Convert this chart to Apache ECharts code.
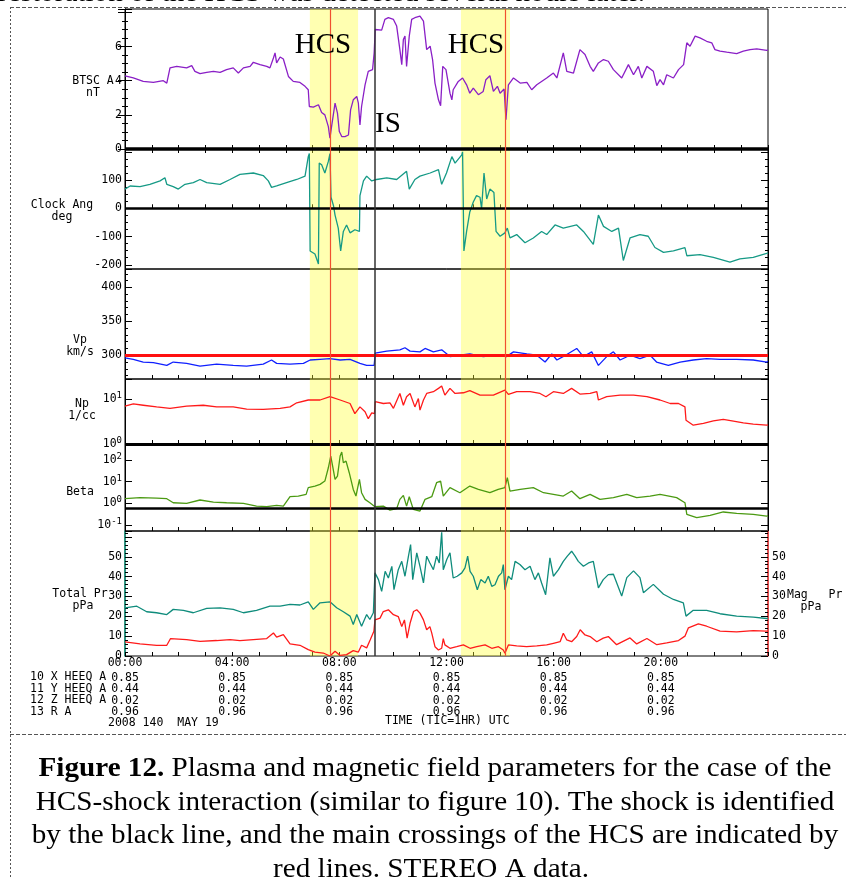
<!DOCTYPE html>
<html>
<head>
<meta charset="utf-8">
<script src="https://cdn.jsdelivr.net/npm/echarts@6/dist/echarts.min.js"></script>
<style>
  html, body { margin: 0; padding: 0; background: #fff; }
  #main { width: 846px; height: 877px; }
</style>
</head>
<body>
<div id="main"></div>
<script>
// STEREO A, 2008 day 140 (May 19); time in hours UT
const bField = [[0,4.29],[0.31,4.16],[0.68,3.96],[1.06,3.90],[1.43,4.00],[1.56,3.86],[1.68,4.75],[1.93,4.84],[2.30,4.75],[2.49,4.88],[2.61,4.55],[2.80,4.41],[3.05,4.49],[3.30,4.55],[3.55,4.49],[3.79,4.65],[4.04,4.75],[4.23,4.45],[4.42,4.75],[4.67,4.84],[4.79,5.08],[5.04,4.94],[5.29,4.84],[5.41,4.75],[5.54,5.33],[5.60,5.63],[5.66,5.04],[5.79,5.39],[5.91,5.27],[6.10,4.25],[6.28,3.96],[6.53,3.90],[6.72,3.67],[6.84,3.47],[6.88,2.49],[7.03,2.45],[7.22,2.59],[7.34,2.14],[7.46,2.00],[7.59,1.31],[7.65,0.63],[7.71,1.31],[7.84,2.69],[7.93,2.10],[8.00,1.02],[8.09,0.73],[8.21,0.73],[8.34,0.82],[8.42,2.29],[8.52,2.88],[8.65,3.08],[8.71,2.69],[8.77,1.41],[8.83,2.49],[8.96,3.76],[9.08,4.55],[9.24,4.65],[9.30,5.63],[9.34,7.00],[9.39,7.04],[9.58,6.96],[9.70,7.59],[9.83,7.69],[10.02,7.59],[10.14,7.20],[10.26,5.82],[10.33,4.94],[10.39,6.41],[10.45,6.61],[10.51,4.84],[10.61,6.61],[10.70,7.59],[10.82,7.69],[11.01,7.78],[11.14,7.49],[11.26,5.82],[11.39,6.02],[11.48,5.24],[11.57,3.86],[11.70,2.88],[11.78,2.53],[11.86,4.84],[11.98,4.65],[12.13,3.27],[12.20,2.88],[12.25,3.47],[12.44,3.96],[12.60,4.16],[12.75,3.76],[12.87,3.27],[13.00,3.57],[13.19,3.18],[13.37,3.37],[13.47,4.06],[13.62,4.29],[13.75,3.37],[13.90,3.67],[14.00,3.27],[14.15,3.51],[14.22,1.71],[14.31,3.76],[14.50,4.16],[14.75,3.86],[15.00,3.90],[15.18,3.47],[15.37,3.76],[15.74,4.16],[15.99,4.45],[16.12,4.16],[16.36,5.63],[16.49,4.55],[16.74,4.45],[16.98,5.82],[17.17,5.53],[17.36,4.84],[17.48,4.55],[17.67,5.04],[17.86,5.24],[18.04,5.14],[18.23,4.65],[18.54,4.16],[18.79,4.94],[18.98,4.35],[19.16,4.84],[19.29,4.16],[19.48,4.84],[19.72,4.55],[19.85,3.71],[19.97,4.06],[20.10,3.76],[20.22,4.35],[20.47,4.16],[20.66,4.65],[20.85,4.94],[20.97,6.22],[21.09,6.02],[21.28,6.61],[21.46,6.51],[21.71,6.31],[21.90,6.22],[22.02,5.82],[22.21,5.73],[22.46,5.67],[22.83,5.59],[23.08,5.73],[23.33,5.82],[23.58,5.86],[23.95,5.78],[24,5.80]];

const clockAngle = [[0,68],[0.19,79],[0.56,77],[0.93,85],[1.31,97],[1.49,108],[1.56,85],[1.80,77],[1.99,68],[2.24,85],[2.55,91],[2.80,102],[3.05,91],[3.55,85],[3.92,102],[4.29,120],[4.79,125],[5.16,116],[5.35,97],[5.47,74],[5.66,79],[6.03,91],[6.41,102],[6.72,114],[6.84,183],[6.88,194],[6.91,-151],[7.09,-162],[7.22,-197],[7.25,160],[7.34,154],[7.46,125],[7.59,166],[7.65,194],[7.69,39],[7.78,10],[7.84,-24],[7.96,-70],[8.05,-151],[8.15,-82],[8.27,-59],[8.40,-87],[8.58,-76],[8.75,-82],[8.77,45],[8.90,97],[9.02,114],[9.21,97],[9.39,102],[9.77,108],[10.14,102],[10.51,131],[10.61,68],[10.82,102],[11.01,114],[11.39,125],[11.70,137],[11.82,85],[12.00,125],[12.20,183],[12.32,160],[12.57,189],[12.60,200],[12.65,-151],[12.75,-82],[12.87,-13],[13.00,22],[13.12,45],[13.25,39],[13.31,-1],[13.40,125],[13.50,33],[13.62,68],[13.77,56],[13.85,-82],[14.00,-99],[14.18,-87],[14.27,-70],[14.37,-105],[14.62,-93],[14.93,-122],[15.24,-105],[15.55,-82],[15.74,-93],[16.05,-59],[16.36,-70],[16.86,-59],[17.11,-82],[17.48,-128],[17.67,-24],[17.86,-64],[18.17,-82],[18.42,-70],[18.60,-185],[18.85,-105],[19.22,-93],[19.53,-99],[19.78,-139],[20.10,-156],[20.47,-151],[20.90,-139],[20.97,-168],[21.46,-164],[21.96,-174],[22.58,-191],[22.95,-179],[23.45,-174],[23.95,-160],[24,-158]];

const vp = [[0,296],[0.31,294],[0.68,290],[1.06,289],[1.56,285],[1.80,290],[2.30,288],[2.80,284],[3.42,287],[4.04,285],[4.54,284],[5.16,287],[5.47,293],[5.66,288],[6.16,287],[6.66,288],[6.91,293],[7.28,294],[7.65,295],[8.03,293],[8.40,294],[8.77,288],[9.02,285],[9.30,285],[9.34,303],[9.77,306],[10.26,308],[10.45,311],[10.64,306],[11.01,305],[11.20,310],[11.51,305],[11.82,308],[12.13,298],[12.50,300],[12.87,302],[13.37,298],[13.87,300],[14.24,298],[14.50,305],[15.00,302],[15.37,300],[15.68,290],[15.93,302],[16.12,293],[16.49,301],[16.86,310],[17.11,298],[17.42,305],[17.67,285],[17.98,298],[18.23,305],[18.48,293],[18.85,300],[19.22,295],[19.60,300],[19.84,290],[20.28,285],[20.72,290],[21.21,293],[21.71,295],[22.21,294],[22.83,294],[23.45,293],[23.95,290],[24,291]];

const np = [[0,7.1],[0.31,7.9],[0.68,7.4],[1.18,6.8],[1.68,6.3],[2.30,7.1],[2.92,7.4],[3.42,6.8],[4.04,6.8],[4.54,6.05],[5.16,5.95],[5.79,6.3],[6.16,6.8],[6.41,8.4],[6.84,9.7],[7.28,9.7],[7.65,11.5],[8.03,9.7],[8.40,8.1],[8.58,4.8],[8.77,6.8],[8.96,5.3],[9.08,3.7],[9.21,5.0],[9.31,4.8],[9.34,8.9],[9.64,8.1],[9.89,8.4],[10.02,6.3],[10.26,13.6],[10.39,7.4],[10.51,11.5],[10.64,13.6],[10.82,6.8],[10.95,10.5],[11.01,5.75],[11.14,9.7],[11.26,13.6],[11.51,14.9],[11.70,17.7],[11.82,20],[11.94,12.5],[12.13,17.7],[12.32,13.6],[12.63,14.1],[12.87,15.7],[13.25,12.5],[13.75,12.5],[14.18,16.2],[14.31,13.0],[14.62,14.9],[15.12,14.9],[15.49,13.6],[15.71,11.5],[15.99,14.9],[16.36,13.6],[16.67,17.7],[16.98,13.2],[17.36,13.6],[17.61,14.9],[17.67,9.7],[17.98,11.5],[18.48,12.5],[18.98,12.5],[19.48,11.5],[19.97,9.7],[20.35,8.1],[20.66,8.1],[20.90,6.8],[20.94,3.4],[21.21,2.64],[21.59,2.9],[21.96,3.3],[22.33,3.55],[22.71,3.25],[23.08,2.97],[23.45,2.78],[23.95,2.64],[24,2.7]];

const beta = [[0,1.64],[0.56,1.83],[1.18,1.76],[1.56,1.64],[1.80,1.07],[2.30,1.0],[2.80,1.43],[3.30,1.15],[3.79,1.07],[4.42,1.0],[4.91,0.75],[5.29,0.70],[5.66,0.81],[5.91,0.75],[6.16,2.03],[6.47,2.18],[6.76,2.6],[6.84,5.3],[7.09,6.3],[7.28,7.5],[7.46,10.7],[7.59,44],[7.68,153],[7.75,53],[7.84,12.8],[7.93,18],[8.03,153],[8.09,235],[8.15,75],[8.25,89],[8.37,26],[8.52,4.4],[8.62,2.18],[8.75,12.8],[8.83,3.1],[8.96,1.53],[9.14,1.07],[9.33,0.70],[9.64,0.75],[9.89,0.49],[10.14,0.57],[10.26,1.53],[10.39,2.34],[10.51,0.75],[10.61,2.03],[10.76,0.53],[11.01,0.44],[11.20,1.53],[11.45,2.03],[11.63,9.0],[11.78,10.7],[11.88,2.18],[12.13,5.3],[12.50,3.1],[12.87,6.3],[13.19,4.4],[13.62,3.1],[13.93,4.4],[14.18,5.3],[14.27,15.3],[14.37,3.7],[14.75,4.4],[15.24,5.3],[15.62,3.1],[15.99,2.6],[16.36,2.18],[16.67,3.7],[16.98,1.64],[17.36,2.6],[17.73,1.53],[18.23,1.83],[18.73,2.6],[19.10,1.83],[19.60,2.18],[19.97,2.6],[20.59,1.83],[20.90,1.07],[20.97,0.31],[21.34,0.22],[21.84,0.28],[22.33,0.40],[22.83,0.345],[23.45,0.31],[23.95,0.26],[24,0.27]];

const totalPr = [[0,24.3],[0.44,25.1],[0.81,22.3],[1.18,21.8],[1.56,20.9],[1.80,23.5],[2.18,23.0],[2.55,21.8],[3.05,24.0],[3.55,24.3],[4.04,23.5],[4.42,21.8],[4.91,23.0],[5.41,25.1],[5.79,25.1],[6.16,26.0],[6.53,25.7],[6.84,27.3],[7.03,23.5],[7.28,26.8],[7.65,27.3],[7.90,24.3],[8.15,22.3],[8.40,20.1],[8.52,15.9],[8.65,20.9],[8.83,15.0],[9.02,20.9],[9.14,18.4],[9.27,21.8],[9.33,41.9],[9.46,38.5],[9.58,32.6],[9.71,42.7],[9.83,39.3],[9.96,45.2],[10.04,33.4],[10.20,43.5],[10.33,47.7],[10.45,40.2],[10.58,50.3],[10.66,56.2],[10.74,38.5],[10.89,52.0],[11.01,45.2],[11.14,36.8],[11.26,50.3],[11.38,46.9],[11.51,43.5],[11.63,50.3],[11.73,46.9],[11.82,62.4],[11.88,43.5],[12.01,48.6],[12.13,52.0],[12.25,39.3],[12.40,40.2],[12.57,41.9],[12.69,44.4],[12.79,50.3],[12.88,42.7],[13.00,40.2],[13.15,33.4],[13.28,38.5],[13.44,36.8],[13.56,40.2],[13.69,35.1],[13.81,35.9],[13.94,40.2],[14.06,41.9],[14.12,46.1],[14.18,33.4],[14.31,40.2],[14.43,38.5],[14.56,47.7],[14.74,46.1],[14.93,43.5],[15.12,45.2],[15.30,38.5],[15.43,41.9],[15.55,36.8],[15.70,30.9],[15.86,49.5],[15.99,40.2],[16.18,43.5],[16.36,47.7],[16.51,50.3],[16.67,52.8],[16.80,50.3],[16.92,47.7],[17.11,45.2],[17.30,46.9],[17.48,47.7],[17.67,34.3],[17.85,38.5],[18.04,41.0],[18.23,41.2],[18.54,30.2],[18.73,39.5],[18.98,42.9],[19.22,39.5],[19.35,31.9],[19.72,36.1],[20.10,31.1],[20.47,28.5],[20.84,26.8],[20.94,20.1],[21.21,23.0],[21.71,23.0],[22.21,21.3],[22.83,20.1],[23.45,19.6],[23.95,18.9],[24,19.0]];

const magPr = [[0,7.1],[0.56,6.1],[1.18,5.4],[1.56,5.4],[1.70,8.8],[2.30,8.3],[2.80,7.4],[3.42,7.8],[3.92,8.3],[4.29,7.8],[4.79,8.3],[5.29,8.8],[5.54,11.6],[5.66,9.5],[5.91,10.8],[6.16,6.1],[6.53,5.4],[6.84,3.2],[7.09,2.0],[7.40,1.5],[7.65,0],[7.84,2.4],[8.03,0.3],[8.27,0.7],[8.52,2.7],[8.71,2.0],[8.83,5.4],[9.02,4.1],[9.15,8.1],[9.29,12.5],[9.33,18.2],[9.52,19.1],[9.64,22.4],[9.83,23.3],[10.02,20.8],[10.20,19.9],[10.33,14.8],[10.43,18.2],[10.53,9.0],[10.64,16.5],[10.77,22.4],[10.89,23.3],[11.01,21.6],[11.14,18.2],[11.26,13.2],[11.38,14.8],[11.45,11.5],[11.57,4.7],[11.70,3.0],[11.82,3.9],[11.88,8.8],[11.94,5.6],[12.13,3.9],[12.38,4.7],[12.63,5.6],[12.88,3.9],[13.13,4.7],[13.44,5.6],[13.69,3.9],[13.94,4.7],[14.12,3.0],[14.18,1.4],[14.31,5.6],[14.62,5.1],[14.99,4.7],[15.37,5.1],[15.74,5.6],[15.99,6.4],[16.24,7.2],[16.36,11.5],[16.49,8.1],[16.67,7.2],[16.86,9.8],[16.99,13.2],[17.17,10.6],[17.36,9.8],[17.61,7.2],[17.85,9.0],[18.04,9.8],[18.35,5.7],[18.85,9.1],[19.10,6.1],[19.48,8.8],[19.85,5.7],[20.22,6.6],[20.66,7.8],[20.90,10.0],[21.03,14.2],[21.40,16.2],[21.71,15.0],[22.21,12.5],[22.83,12.2],[23.45,12.8],[23.95,12.5],[24,12.5]];

// HCS intervals, HCS crossings and the shock (hours UT)
const hcsBands = [[6.9, 8.7], [12.54, 14.37]];
const hcsCrossings = [7.65, 14.19];
const shockTime = 9.33;

// ephemeris rows printed under every 4-hour tick
const heeqX = [0.85, 0.85, 0.85, 0.85, 0.85, 0.85];
const heeqY = [0.44, 0.44, 0.44, 0.44, 0.44, 0.44];
const heeqZ = [0.02, 0.02, 0.02, 0.02, 0.02, 0.02];
const radius = [0.96, 0.96, 0.96, 0.96, 0.96, 0.96];

const MONO = '"DejaVu Sans Mono", monospace';
const SERIF = '"Liberation Serif", "Times New Roman", serif';

const chart = echarts.init(document.getElementById('main'), null, { renderer: 'canvas' });

// panel layout
const panels = [
  { top: 9, height: 140 },
  { top: 149, height: 120 },
  { top: 269, height: 110 },
  { top: 379, height: 65 },
  { top: 444, height: 87 },
  { top: 531, height: 125 }
];

const grids = panels.map(p => ({
  left: 125, right: 78, top: p.top, height: p.height,
  show: true, borderColor: '#000', borderWidth: 1, backgroundColor: 'transparent'
}));

const pad2 = n => (n < 10 ? '0' : '') + n;

const xAxes = panels.map((p, i) => ({
  gridIndex: i, type: 'value', min: 0, max: 24, interval: 1,
  axisLine: { show: false },
  axisTick: { inside: true, length: 4, lineStyle: { color: '#000' } },
  splitLine: { show: false },
  axisLabel: i === 5 ? {
    show: true, margin: -2, fontFamily: MONO, fontSize: 11.5, color: '#000',
    formatter: v => {
      if (v % 4 !== 0 || v >= 24) return '';
      const k = v / 4;
      return '{t|' + pad2(v) + ':00}\n{e|' + heeqX[k].toFixed(2) + '}\n{e|' + heeqY[k].toFixed(2) +
        '}\n{e|' + heeqZ[k].toFixed(2) + '}\n{e|' + radius[k].toFixed(2) + '}';
    },
    rich: {
      t: { lineHeight: 18, fontFamily: MONO, fontSize: 11.5, color: '#000' },
      e: { lineHeight: 11.5, fontFamily: MONO, fontSize: 11.5, color: '#000' }
    }
  } : { show: false }
}));
// top ticks of the first panel
xAxes.push({
  gridIndex: 0, type: 'value', position: 'top', min: 0, max: 24, interval: 1,
  axisLine: { show: false }, axisLabel: { show: false }, splitLine: { show: false },
  axisTick: { inside: true, length: 4, lineStyle: { color: '#000' } }
});

function logLabel(v) {
  const l = Math.log10(v);
  const e = Math.round(l);
  if (Math.abs(l - e) > 0.01) return '';
  return '10{s|' + e + '}';
}
const supRich = { s: { fontFamily: MONO, fontSize: 9, color: '#000', padding: [0, 0, 7, 0] } };

const yDefs = [
  { type: 'value', min: 0, max: 8.2, interval: 2, minor: 4, fmt: v => (v <= 6 ? String(v) : '') },
  { type: 'value', min: -215, max: 210, splitNumber: 4, minor: 4,
    fmt: v => ([-200, -100, 0, 100].indexOf(v) >= 0 ? String(v) : '') },
  { type: 'value', min: 265, max: 427, splitNumber: 3, minor: 5,
    fmt: v => ([300, 350, 400].indexOf(v) >= 0 ? String(v) : '') },
  { type: 'log', min: 1, max: 28.7, fmt: logLabel },
  { type: 'log', min: 0.053, max: 550, fmt: logLabel },
  { type: 'value', min: 0, max: 63, interval: 10, minor: 5, fmt: v => (v <= 50 ? String(v) : '') }
];

function yAxis(d, i, side) {
  const isPress = i === 5;
  const lineColor = isPress ? (side === 'left' ? '#139a80' : '#ff4040') : '#000';
  const showLabel = side === 'left' || isPress;
  const ax = {
    gridIndex: i, type: d.type, min: d.min, max: d.max, position: side,
    axisLine: { show: true, lineStyle: { color: lineColor, width: isPress ? 1.5 : 1 } },
    axisTick: { inside: true, length: 7, lineStyle: { color: '#000' } },
    splitLine: { show: false },
    axisLabel: {
      show: showLabel, margin: side === 'left' ? 3 : 4, fontFamily: MONO, fontSize: 11.5, color: '#000',
      formatter: d.fmt, rich: supRich, showMinLabel: true, showMaxLabel: true
    }
  };
  if (d.type === 'log') ax.logBase = 10;
  if (d.interval) ax.interval = d.interval;
  if (d.splitNumber) ax.splitNumber = d.splitNumber;
  if (d.minor) ax.minorTick = { show: true, splitNumber: d.minor, length: 3, lineStyle: { color: '#000' } };
  return ax;
}
const yAxes = yDefs.map((d, i) => yAxis(d, i, 'left')).concat(yDefs.map((d, i) => yAxis(d, i, 'right')));

// horizontal reference lines per panel
const hLines = [
  [{ yAxis: 0, lineStyle: { color: '#000', width: 3.5, type: 'solid' } }],
  [{ yAxis: 0, lineStyle: { color: '#000', width: 2.5, type: 'solid' } }],
  [{ yAxis: 300, lineStyle: { color: '#ff1010', width: 3, type: 'solid' } }],
  [{ yAxis: 1, lineStyle: { color: '#000', width: 3, type: 'solid' } }],
  [{ yAxis: 0.6, lineStyle: { color: '#000', width: 2.5, type: 'solid' } }],
  []
];

function markers(i) {
  const v = hcsCrossings.map(h => ({ xAxis: h, lineStyle: { color: '#f05030', width: 1.2, type: 'solid' } }));
  v.push({ xAxis: shockTime, lineStyle: { color: '#333', width: 1.5, type: 'solid' } });
  return {
    markArea: {
      silent: true,
      itemStyle: { color: 'rgba(255,255,50,0.38)' },
      data: hcsBands.map(b => [{ xAxis: b[0] }, { xAxis: b[1] }])
    },
    markLine: {
      silent: true, symbol: ['none', 'none'], label: { show: false },
      data: hLines[i].concat(v)
    }
  };
}

function lineSeries(data, i, color, yIdx, withMarks) {
  const s = {
    type: 'line', data: data, xAxisIndex: i, yAxisIndex: yIdx,
    showSymbol: false, symbol: 'none', animation: false, z: 3,
    lineStyle: { color: color, width: 1.3 }
  };
  if (withMarks) Object.assign(s, markers(i));
  return s;
}

const series = [
  lineSeries(bField, 0, '#8a1fc6', 0, true),
  lineSeries(clockAngle, 1, '#169a86', 1, true),
  lineSeries(vp, 2, '#1020ff', 2, true),
  lineSeries(np, 3, '#ff1a1a', 3, true),
  lineSeries(beta, 4, '#4b9a12', 4, true),
  lineSeries(totalPr, 5, '#0f8c7c', 5, true),
  lineSeries(magPr, 5, '#ff1a1a', 11, false)
];

function txt(x, y, text, font, align, extra) {
  return Object.assign({
    type: 'text', x: x, y: y, silent: true, z: 100,
    style: {
      text: text, font: font, fill: '#000',
      align: align, textAlign: align, verticalAlign: 'middle', textVerticalAlign: 'middle'
    }
  }, extra || {});
}
function dash(x1, y1, x2, y2, d) {
  return {
    type: 'line', silent: true, z: 100,
    shape: { x1: x1, y1: y1, x2: x2, y2: y2 },
    style: { stroke: '#555', lineWidth: 1, lineDash: d }
  };
}

const mono = '11.5px ' + MONO;
const cap = '27px ' + SERIF;
const wide = { scaleX: 1.08 };
const graphic = [
  txt(645, -6.5, 'restoration of the HCS was detected several hours later.', cap, 'right', wide),
  dash(10, 7.5, 846, 7.5, [4, 2]),
  dash(10.5, 7, 10.5, 877, [2, 2]),
  dash(10, 734.5, 846, 734.5, [4, 2]),
  // panel titles
  txt(93, 81, 'BTSC A', mono, 'center'), txt(93, 93, 'nT', mono, 'center'),
  txt(62, 205, 'Clock Ang', mono, 'center'), txt(62, 217, 'deg', mono, 'center'),
  txt(80, 340, 'Vp', mono, 'center'), txt(80, 352, 'km/s', mono, 'center'),
  txt(82, 404, 'Np', mono, 'center'), txt(82, 416, '1/cc', mono, 'center'),
  txt(80, 492, 'Beta', mono, 'center'),
  txt(80, 594, 'Total Pr', mono, 'center'), txt(83, 606, 'pPa', mono, 'center'),
  txt(787, 595, 'Mag   Pr', mono, 'left'), txt(811, 607, 'pPa', mono, 'center'),
  // annotations
  txt(323, 45, 'HCS', '29px ' + SERIF, 'center'),
  txt(476, 45, 'HCS', '29px ' + SERIF, 'center'),
  txt(388, 124, 'IS', '29px ' + SERIF, 'center'),
  // ephemeris rows
  txt(30, 677, '10 X HEEQ A', mono, 'left'),
  txt(30, 689, '11 Y HEEQ A', mono, 'left'),
  txt(30, 700, '12 Z HEEQ A', mono, 'left'),
  txt(30, 712, '13 R A', mono, 'left'),
  txt(108, 723, '2008 140  MAY 19', mono, 'left'),
  txt(385, 721, 'TIME (TIC=1HR) UTC', mono, 'left'),
  // caption
  {
    type: 'text', x: 435, y: 769, silent: true, z: 100, scaleX: 1.08,
    style: {
      text: '{b|Figure 12.} Plasma and magnetic field parameters for the case of the',
      font: cap, fill: '#000', align: 'center', textAlign: 'center',
      verticalAlign: 'middle', textVerticalAlign: 'middle',
      rich: { b: { font: 'bold 27px ' + SERIF, fill: '#000' } }
    }
  },
  txt(435, 802.5, 'HCS-shock interaction (similar to figure 10). The shock is identified', cap, 'center', wide),
  txt(435, 836, 'by the black line, and the main crossings of the HCS are indicated by', cap, 'center', wide),
  txt(431, 869.5, 'red lines. STEREO A data.', cap, 'center', wide)
];

chart.setOption({
  backgroundColor: '#fff',
  animation: false,
  grid: grids,
  xAxis: xAxes,
  yAxis: yAxes,
  series: series,
  graphic: graphic
});
</script>
</body>
</html>
